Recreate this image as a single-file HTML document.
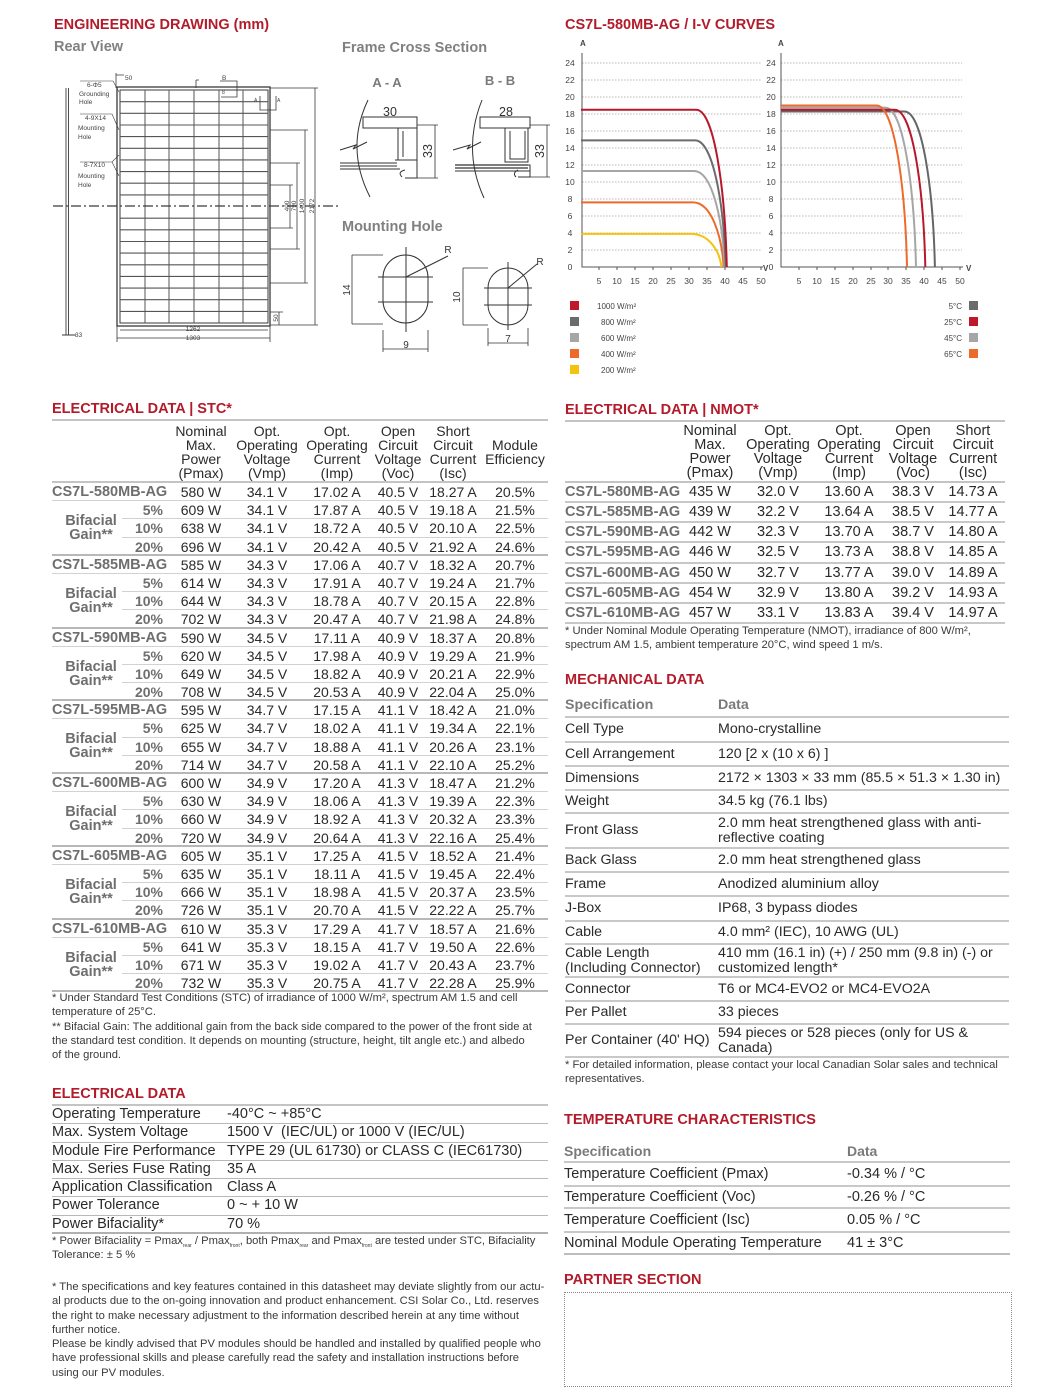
<!DOCTYPE html>
<html><head><meta charset="utf-8">
<style>
*{margin:0;padding:0;box-sizing:border-box}
body{width:1060px;height:1393px;background:#fff;font-family:"Liberation Sans",sans-serif;color:#2a2a2a;position:relative;overflow:hidden}
.a{position:absolute;white-space:nowrap}
.h{position:absolute;white-space:nowrap;color:#b31b2b;font-weight:bold;font-size:14.5px;line-height:18px}
.sub{position:absolute;white-space:nowrap;color:#808080;font-weight:bold;font-size:14.5px;line-height:18px}
.hr{position:absolute;height:2px;background:#c4c4c4}
.fn{position:absolute;white-space:nowrap;font-size:11.2px;line-height:14.3px;color:#3a3a3a}
.sb{font-size:5px;position:relative;top:3px;line-height:0}
.hd{position:absolute;top:424px;font-size:14px;line-height:14px;text-align:center;color:#2a2a2a;white-space:nowrap}
.stc{position:absolute;left:52px;top:483px;width:496px}
.stc .r{position:relative;height:18.19px;font-size:14px;line-height:18px;border-bottom:1px solid #d2d2d2}
.stc .r.l{border-bottom:2px solid #b8b8b8}
.stc .r.b{border-bottom:none}
.stc .r.b::after{content:"";position:absolute;left:70px;right:0;bottom:0;height:1px;background:#d2d2d2}
.stc span,.nm span{position:absolute;top:0;text-align:center;white-space:nowrap}
.mn{left:0;text-align:left!important;font-weight:bold;color:#6e6e6e;font-size:14.5px}
.pc{left:71px;width:40px;text-align:right!important;font-weight:bold;color:#6e6e6e}
.bg{left:0;width:78px;top:13px!important;line-height:14px;font-weight:bold;color:#6e6e6e;font-size:14.5px;z-index:2}
.stc .c1{left:119px;width:60px}.stc .c2{left:180px;width:70px}.stc .c3{left:250px;width:70px}
.stc .c4{left:316px;width:60px}.stc .c5{left:371px;width:60px}.stc .c6{left:433px;width:60px}
.nm{position:absolute;left:565px;top:483px;width:440px}
.nm .r{position:relative;height:20.15px;font-size:14.5px;line-height:19px;border-bottom:2px solid #c8c8c8}
.nm .c1{left:115px;width:60px}.nm .c2{left:178px;width:70px}.nm .c3{left:249px;width:70px}
.nm .c4{left:318px;width:60px}.nm .c5{left:378px;width:60px}
.mr{position:absolute;left:565px;width:444px;border-bottom:2px solid #c8c8c8;font-size:14.2px;display:flex;align-items:center}
.mr .k{position:absolute;left:0;line-height:14.5px}
.mr .v{position:absolute;left:153px;line-height:14.5px}
.mh{color:#7a7a7a;font-weight:bold}
.tr{position:absolute;left:564px;width:446px;border-bottom:2px solid #c8c8c8;font-size:14.5px;display:flex;align-items:center}
.tr .k{position:absolute;left:0}
.tr .v{position:absolute;left:283px}
.er{position:relative;height:18.3px;line-height:17px;font-size:14.5px;border-bottom:1.5px solid #b8b8b8}
.er .k{position:absolute;left:0}
.er .v{position:absolute;left:175px;white-space:nowrap}
</style></head><body>

<svg class="a" style="left:0;top:0" width="1060" height="390" viewBox="0 0 1060 390" font-family="Liberation Sans, sans-serif">
<g stroke="#3a3a3a" fill="none" stroke-width="1">
<rect x="117" y="87" width="153" height="239" stroke-width="1.3"/>
<rect x="120" y="90" width="148" height="233"/>
<path d="M145 90V323M169 90V323M194 90V323M219 90V323M243 90V323" stroke="#555"/>
<path d="M120 101.7H268M120 113.3H268M120 125H268M120 136.6H268M120 148.3H268M120 159.9H268M120 171.6H268M120 183.2H268M120 194.9H268M120 218.2H268M120 229.8H268M120 241.5H268M120 253.1H268M120 264.8H268M120 276.4H268M120 288.1H268M120 299.7H268M120 311.4H268" stroke="#555" stroke-width="1.1"/>
<path d="M66 88V335M68.5 88V335M62 335H76" stroke-width="0.9"/>
<path d="M53 206H338" stroke-dasharray="10 3 2 3" stroke-width="1.2"/>
<path d="M270 88H318M270 325H318M315 88V325" stroke-width="0.8"/>
<path d="M270 130H308M270 283H308M305 130V283" stroke-width="0.8"/>
<path d="M270 163H300M270 249H300M297 163V249" stroke-width="0.8"/>
<path d="M270 185H293M270 228H293M290 185V228" stroke-width="0.8"/>
<path d="M117 326V342M270 326V342M120 330H268M117 338H270" stroke-width="0.8"/>
<path d="M270 312H283M279 312V325" stroke-width="0.8"/>
<path d="M116 73V88M116 75H124" stroke-width="0.8"/>
<path d="M220 81H237V97H221" stroke-width="0.8"/>
<path d="M196 80V88M196 80H199" stroke-width="0.8"/>
<path d="M260 96V110H276V96" stroke-width="0.8"/>
<path d="M80 81H113L119 92M80 114H112L119 130M80 162H112L119 155M112 162L119 176" stroke-width="0.6"/>
</g>
<g fill="#444" font-size="6.5">
<text x="125" y="80">50</text><text x="222" y="80">B</text><text x="222" y="94" font-size="5">8</text>
<text x="254" y="102" font-size="5">A</text><text x="277" y="102" font-size="5">A</text>
<text x="87" y="87">6-Φ5</text><text x="79" y="96">Grounding</text><text x="79" y="104">Hole</text>
<text x="85" y="120">4-9X14</text><text x="78" y="130">Mounting</text><text x="78" y="139">Hole</text>
<text x="84" y="167">8-7X10</text><text x="78" y="178">Mounting</text><text x="78" y="187">Hole</text>
<text x="75" y="337">33</text>
<text x="193" y="331" text-anchor="middle">1262</text><text x="193" y="340" text-anchor="middle">1303</text>
<text transform="translate(289,206) rotate(-90)" text-anchor="middle">400</text>
<text transform="translate(296,206) rotate(-90)" text-anchor="middle">790</text>
<text transform="translate(304,206) rotate(-90)" text-anchor="middle">1400</text>
<text transform="translate(314,206) rotate(-90)" text-anchor="middle">2172</text>
<text transform="translate(278,318) rotate(-90)" text-anchor="middle">50</text>
</g>
<g fill="#7a7a7a" font-weight="bold" font-size="13" text-anchor="middle">
<text x="387" y="87">A - A</text><text x="500" y="85">B - B</text>
</g>
<g stroke="#333" fill="none" stroke-width="1">
<path d="M368 100Q345 148 370 197"/><path d="M340 150L356 145L353 149L367 142"/>
<path d="M340 163H397M340 166H397M340 169H400" stroke-width="1.1"/>
<path d="M363 117H417V128H363Z"/><path d="M398 128H417V160H398Z"/><path d="M403 131V157"/>
<path d="M395 160H417V178H405M405 170Q397 172 402 177"/>
<path d="M417 125H438M417 178H438M435 125V178" stroke-width="0.8"/>
<path d="M482 100Q462 150 484 198"/><path d="M453 150L470 145L467 149L481 142"/>
<path d="M455 165H528M455 168H528" stroke-width="1.3"/><path d="M455 171H530"/>
<path d="M480 117H530V128H480Z"/><path d="M505 128H528V162H505Z"/><path d="M510 131V159H525V131"/>
<path d="M513 165H530V177H518M518 170Q512 173 516 177"/>
<path d="M530 125H550M530 177H550M547 125V177" stroke-width="0.8"/>
</g>
<g fill="#333" font-size="12.5" text-anchor="middle">
<text x="390" y="116">30</text><text x="506" y="116">28</text>
<text transform="translate(432,151) rotate(-90)">33</text>
<text transform="translate(544,151) rotate(-90)">33</text>
</g>
<g stroke="#333" fill="none" stroke-width="1">
<rect x="383" y="255" width="45" height="68" rx="22.5"/>
<path d="M378 277H433M378 302H433M406 247V332"/>
<path d="M406 277L448 256"/>
<path d="M352 255V324M352 255H383M352 324H383" stroke-width="0.8"/>
<path d="M383 330V352M428 330V352M383 349H428" stroke-width="0.8"/>
<rect x="488" y="268" width="40" height="57" rx="20"/>
<path d="M484 288H532M484 305H532M508 262V330" />
<path d="M508 288L537 264"/>
<path d="M463 268V325M463 268H488M463 325H488" stroke-width="0.8"/>
<path d="M488 328V346M528 328V346M488 343H528" stroke-width="0.8"/>
</g>
<g fill="#333" font-size="10" text-anchor="middle">
<text x="448" y="253">R</text><text x="540" y="265">R</text>
<text transform="translate(350,290) rotate(-90)">14</text>
<text transform="translate(460,297) rotate(-90)">10</text>
<text x="406" y="348">9</text><text x="508" y="342">7</text>
</g>

<g stroke="#b8b8b8" stroke-width="0.9" stroke-dasharray="1.5 1.5">
<path d="M582 250H762M582 233H762M582 216H762M582 199H762M582 182H762M582 165H762M582 148H762M582 131H762M582 114H762M582 97H762M582 80H762M582 63H762"/>
<path d="M781 250H962M781 233H962M781 216H962M781 199H962M781 182H962M781 165H962M781 148H962M781 131H962M781 114H962M781 97H962M781 80H962M781 63H962"/>
</g>
<g stroke="#555" stroke-width="1" fill="none">
<path d="M582 53V267H763"/><path d="M781 53V267H963"/>
<path d="M599 267v3M617 267v3M635 267v3M653 267v3M671 267v3M689 267v3M707 267v3M725 267v3M743 267v3M761 267v3"/>
<path d="M799 267v3M817 267v3M835 267v3M853 267v3M871 267v3M888 267v3M906 267v3M924 267v3M942 267v3M960 267v3"/>
</g>
<g fill="none" stroke-width="2">
<path d="M581 233.9H690.8C708.8 233.9 719.6 250.4 721.4 267" stroke="#f5c20e"/>
<path d="M581 202.4H693C711 202.4 721.8 234.7 723.6 267" stroke="#ee6a2a"/>
<path d="M581 171H694C712 171 722.8 219 724.6 267" stroke="#a6a6a6"/>
<path d="M581 140.4H695.1C713.1 140.4 723.9 203.7 725.7 267" stroke="#6b6b6b"/>
<path d="M581 109.8H696.2C714.2 109.8 725 188.4 726.8 267" stroke="#b8182b"/>
<path d="M781 111.5H904.5C922.4 111.5 933.2 189.2 934.9 267" stroke="#666"/>
<path d="M781 107.6H885.5C903.4 107.6 914.2 187.1 916 267" stroke="#a6a6a6"/>
<path d="M781 109.8H894.8C912.7 109.8 923.5 188.4 925.3 267" stroke="#b8182b"/>
<path d="M781 105.5H876.6C894.5 105.5 905.2 186.3 907 267" stroke="#ee6a2a"/>
</g>
<g fill="#444" font-size="8.5" text-anchor="middle">
<text x="570" y="270">0</text><text x="570" y="253">2</text><text x="570" y="236">4</text><text x="570" y="219">6</text><text x="570" y="202">8</text><text x="570" y="185">10</text><text x="570" y="168">12</text><text x="570" y="151">14</text><text x="570" y="134">16</text><text x="570" y="117">18</text><text x="570" y="100">20</text><text x="570" y="83">22</text><text x="570" y="66">24</text>
<text x="771" y="270">0</text><text x="771" y="253">2</text><text x="771" y="236">4</text><text x="771" y="219">6</text><text x="771" y="202">8</text><text x="771" y="185">10</text><text x="771" y="168">12</text><text x="771" y="151">14</text><text x="771" y="134">16</text><text x="771" y="117">18</text><text x="771" y="100">20</text><text x="771" y="83">22</text><text x="771" y="66">24</text>
<text x="599" y="284">5</text><text x="617" y="284">10</text><text x="635" y="284">15</text><text x="653" y="284">20</text><text x="671" y="284">25</text><text x="689" y="284">30</text><text x="707" y="284">35</text><text x="725" y="284">40</text><text x="743" y="284">45</text><text x="761" y="284">50</text>
<text x="799" y="284">5</text><text x="817" y="284">10</text><text x="835" y="284">15</text><text x="853" y="284">20</text><text x="871" y="284">25</text><text x="888" y="284">30</text><text x="906" y="284">35</text><text x="924" y="284">40</text><text x="942" y="284">45</text><text x="960" y="284">50</text>
</g>
<g fill="#444" font-size="8" font-weight="bold">
<text x="580" y="46">A</text><text x="778" y="46">A</text><text x="763" y="271">V</text><text x="966" y="271">V</text>
</g>
<g>
<rect x="570" y="301" width="9" height="9" fill="#c0182b"/>
<rect x="570" y="317" width="9" height="9" fill="#6b6b6b"/>
<rect x="570" y="333" width="9" height="9" fill="#a6a6a6"/>
<rect x="570" y="349" width="9" height="9" fill="#ee6a2a"/>
<rect x="570" y="365" width="9" height="9" fill="#f5c20e"/>
<rect x="969" y="301" width="9" height="9" fill="#6b6b6b"/>
<rect x="969" y="317" width="9" height="9" fill="#c0182b"/>
<rect x="969" y="333" width="9" height="9" fill="#a6a6a6"/>
<rect x="969" y="349" width="9" height="9" fill="#ee6a2a"/>
</g>
<g fill="#444" font-size="8">
<text x="597" y="309">1000 W/m²</text><text x="601" y="325">800 W/m²</text><text x="601" y="341">600 W/m²</text><text x="601" y="357">400 W/m²</text><text x="601" y="373">200 W/m²</text>
<text x="962" y="309" text-anchor="end">5°C</text><text x="962" y="325" text-anchor="end">25°C</text><text x="962" y="341" text-anchor="end">45°C</text><text x="962" y="357" text-anchor="end">65°C</text>
</g>
</svg>

<div class="h" style="left:54px;top:16px">ENGINEERING DRAWING (mm)</div>
<div class="sub" style="left:54px;top:38px">Rear View</div>
<div class="sub" style="left:342px;top:39px">Frame Cross Section</div>
<div class="sub" style="left:342px;top:218px">Mounting Hole</div>
<div class="h" style="left:565px;top:16px">CS7L-580MB-AG / I-V CURVES</div>

<div class="h" style="left:52px;top:400px">ELECTRICAL DATA | STC*</div>
<div class="hr" style="left:52px;top:419px;width:496px"></div>
<div class="hd" style="left:166px;width:70px">Nominal<br>Max.<br>Power<br>(Pmax)</div>
<div class="hd" style="left:232px;width:70px">Opt.<br>Operating<br>Voltage<br>(Vmp)</div>
<div class="hd" style="left:302px;width:70px">Opt.<br>Operating<br>Current<br>(Imp)</div>
<div class="hd" style="left:363px;width:70px">Open<br>Circuit<br>Voltage<br>(Voc)</div>
<div class="hd" style="left:418px;width:70px">Short<br>Circuit<br>Current<br>(Isc)</div>
<div class="hd" style="left:475px;width:80px">&nbsp;<br>Module<br>Efficiency</div>
<div class="hr" style="left:52px;top:481px;width:496px"></div>
<div class="stc">
<div class="r"><span class="mn">CS7L-580MB-AG</span><span class="c1">580 W</span><span class="c2">34.1 V</span><span class="c3">17.02 A</span><span class="c4">40.5 V</span><span class="c5">18.27 A</span><span class="c6">20.5%</span></div>
<div class="r b"><span class="bg">Bifacial<br>Gain**</span><span class="pc">5%</span><span class="c1">609 W</span><span class="c2">34.1 V</span><span class="c3">17.87 A</span><span class="c4">40.5 V</span><span class="c5">19.18 A</span><span class="c6">21.5%</span></div>
<div class="r b"><span class="pc">10%</span><span class="c1">638 W</span><span class="c2">34.1 V</span><span class="c3">18.72 A</span><span class="c4">40.5 V</span><span class="c5">20.10 A</span><span class="c6">22.5%</span></div>
<div class="r l"><span class="pc">20%</span><span class="c1">696 W</span><span class="c2">34.1 V</span><span class="c3">20.42 A</span><span class="c4">40.5 V</span><span class="c5">21.92 A</span><span class="c6">24.6%</span></div>

<div class="r"><span class="mn">CS7L-585MB-AG</span><span class="c1">585 W</span><span class="c2">34.3 V</span><span class="c3">17.06 A</span><span class="c4">40.7 V</span><span class="c5">18.32 A</span><span class="c6">20.7%</span></div>
<div class="r b"><span class="bg">Bifacial<br>Gain**</span><span class="pc">5%</span><span class="c1">614 W</span><span class="c2">34.3 V</span><span class="c3">17.91 A</span><span class="c4">40.7 V</span><span class="c5">19.24 A</span><span class="c6">21.7%</span></div>
<div class="r b"><span class="pc">10%</span><span class="c1">644 W</span><span class="c2">34.3 V</span><span class="c3">18.78 A</span><span class="c4">40.7 V</span><span class="c5">20.15 A</span><span class="c6">22.8%</span></div>
<div class="r l"><span class="pc">20%</span><span class="c1">702 W</span><span class="c2">34.3 V</span><span class="c3">20.47 A</span><span class="c4">40.7 V</span><span class="c5">21.98 A</span><span class="c6">24.8%</span></div>

<div class="r"><span class="mn">CS7L-590MB-AG</span><span class="c1">590 W</span><span class="c2">34.5 V</span><span class="c3">17.11 A</span><span class="c4">40.9 V</span><span class="c5">18.37 A</span><span class="c6">20.8%</span></div>
<div class="r b"><span class="bg">Bifacial<br>Gain**</span><span class="pc">5%</span><span class="c1">620 W</span><span class="c2">34.5 V</span><span class="c3">17.98 A</span><span class="c4">40.9 V</span><span class="c5">19.29 A</span><span class="c6">21.9%</span></div>
<div class="r b"><span class="pc">10%</span><span class="c1">649 W</span><span class="c2">34.5 V</span><span class="c3">18.82 A</span><span class="c4">40.9 V</span><span class="c5">20.21 A</span><span class="c6">22.9%</span></div>
<div class="r l"><span class="pc">20%</span><span class="c1">708 W</span><span class="c2">34.5 V</span><span class="c3">20.53 A</span><span class="c4">40.9 V</span><span class="c5">22.04 A</span><span class="c6">25.0%</span></div>

<div class="r"><span class="mn">CS7L-595MB-AG</span><span class="c1">595 W</span><span class="c2">34.7 V</span><span class="c3">17.15 A</span><span class="c4">41.1 V</span><span class="c5">18.42 A</span><span class="c6">21.0%</span></div>
<div class="r b"><span class="bg">Bifacial<br>Gain**</span><span class="pc">5%</span><span class="c1">625 W</span><span class="c2">34.7 V</span><span class="c3">18.02 A</span><span class="c4">41.1 V</span><span class="c5">19.34 A</span><span class="c6">22.1%</span></div>
<div class="r b"><span class="pc">10%</span><span class="c1">655 W</span><span class="c2">34.7 V</span><span class="c3">18.88 A</span><span class="c4">41.1 V</span><span class="c5">20.26 A</span><span class="c6">23.1%</span></div>
<div class="r l"><span class="pc">20%</span><span class="c1">714 W</span><span class="c2">34.7 V</span><span class="c3">20.58 A</span><span class="c4">41.1 V</span><span class="c5">22.10 A</span><span class="c6">25.2%</span></div>

<div class="r"><span class="mn">CS7L-600MB-AG</span><span class="c1">600 W</span><span class="c2">34.9 V</span><span class="c3">17.20 A</span><span class="c4">41.3 V</span><span class="c5">18.47 A</span><span class="c6">21.2%</span></div>
<div class="r b"><span class="bg">Bifacial<br>Gain**</span><span class="pc">5%</span><span class="c1">630 W</span><span class="c2">34.9 V</span><span class="c3">18.06 A</span><span class="c4">41.3 V</span><span class="c5">19.39 A</span><span class="c6">22.3%</span></div>
<div class="r b"><span class="pc">10%</span><span class="c1">660 W</span><span class="c2">34.9 V</span><span class="c3">18.92 A</span><span class="c4">41.3 V</span><span class="c5">20.32 A</span><span class="c6">23.3%</span></div>
<div class="r l"><span class="pc">20%</span><span class="c1">720 W</span><span class="c2">34.9 V</span><span class="c3">20.64 A</span><span class="c4">41.3 V</span><span class="c5">22.16 A</span><span class="c6">25.4%</span></div>

<div class="r"><span class="mn">CS7L-605MB-AG</span><span class="c1">605 W</span><span class="c2">35.1 V</span><span class="c3">17.25 A</span><span class="c4">41.5 V</span><span class="c5">18.52 A</span><span class="c6">21.4%</span></div>
<div class="r b"><span class="bg">Bifacial<br>Gain**</span><span class="pc">5%</span><span class="c1">635 W</span><span class="c2">35.1 V</span><span class="c3">18.11 A</span><span class="c4">41.5 V</span><span class="c5">19.45 A</span><span class="c6">22.4%</span></div>
<div class="r b"><span class="pc">10%</span><span class="c1">666 W</span><span class="c2">35.1 V</span><span class="c3">18.98 A</span><span class="c4">41.5 V</span><span class="c5">20.37 A</span><span class="c6">23.5%</span></div>
<div class="r l"><span class="pc">20%</span><span class="c1">726 W</span><span class="c2">35.1 V</span><span class="c3">20.70 A</span><span class="c4">41.5 V</span><span class="c5">22.22 A</span><span class="c6">25.7%</span></div>

<div class="r"><span class="mn">CS7L-610MB-AG</span><span class="c1">610 W</span><span class="c2">35.3 V</span><span class="c3">17.29 A</span><span class="c4">41.7 V</span><span class="c5">18.57 A</span><span class="c6">21.6%</span></div>
<div class="r b"><span class="bg">Bifacial<br>Gain**</span><span class="pc">5%</span><span class="c1">641 W</span><span class="c2">35.3 V</span><span class="c3">18.15 A</span><span class="c4">41.7 V</span><span class="c5">19.50 A</span><span class="c6">22.6%</span></div>
<div class="r b"><span class="pc">10%</span><span class="c1">671 W</span><span class="c2">35.3 V</span><span class="c3">19.02 A</span><span class="c4">41.7 V</span><span class="c5">20.43 A</span><span class="c6">23.7%</span></div>
<div class="r l"><span class="pc">20%</span><span class="c1">732 W</span><span class="c2">35.3 V</span><span class="c3">20.75 A</span><span class="c4">41.7 V</span><span class="c5">22.28 A</span><span class="c6">25.9%</span></div>
</div>
<div class="fn" style="left:52px;top:991px">* Under Standard Test Conditions (STC) of irradiance of 1000 W/m², spectrum AM 1.5 and cell<br>temperature of 25°C.<br>** Bifacial Gain: The additional gain from the back side compared to the power of the front side at<br>the standard test condition. It depends on mounting (structure, height, tilt angle etc.) and albedo<br>of the ground.</div>

<div class="h" style="left:52px;top:1085px">ELECTRICAL DATA</div>
<div class="hr" style="left:52px;top:1104px;width:496px"></div>
<div style="position:absolute;left:52px;top:1106px;width:496px">
<div class="er"><span class="k">Operating Temperature</span><span class="v">-40°C ~ +85°C</span></div>
<div class="er"><span class="k">Max. System Voltage</span><span class="v">1500 V&nbsp; (IEC/UL) or 1000 V (IEC/UL)</span></div>
<div class="er"><span class="k">Module Fire Performance</span><span class="v">TYPE 29 (UL 61730) or CLASS C (IEC61730)</span></div>
<div class="er"><span class="k">Max. Series Fuse Rating</span><span class="v">35 A</span></div>
<div class="er"><span class="k">Application Classification</span><span class="v">Class A</span></div>
<div class="er"><span class="k">Power Tolerance</span><span class="v">0 ~ + 10 W</span></div>
<div class="er" style="border-bottom:2px solid #b0b0b0"><span class="k">Power Bifaciality*</span><span class="v">70 %</span></div>
</div>
<div class="fn" style="left:52px;top:1234px">* Power Bifaciality = Pmax<span class="sb">rear</span> / Pmax<span class="sb">front</span>, both Pmax<span class="sb">rear</span> and Pmax<span class="sb">front</span> are tested under STC, Bifaciality<br>Tolerance: ± 5 %</div>
<div class="fn" style="left:52px;top:1280px">* The specifications and key features contained in this datasheet may deviate slightly from our actu-<br>al products due to the on-going innovation and product enhancement. CSI Solar Co., Ltd. reserves<br>the right to make necessary adjustment to the information described herein at any time without<br>further notice.<br>Please be kindly advised that PV modules should be handled and installed by qualified people who<br>have professional skills and please carefully read the safety and installation instructions before<br>using our PV modules.</div>

<div class="h" style="left:565px;top:401px">ELECTRICAL DATA | NMOT*</div>
<div class="hr" style="left:565px;top:420px;width:440px"></div>
<div class="hd" style="left:675px;width:70px;font-size:14.5px">Nominal<br>Max.<br>Power<br>(Pmax)</div>
<div class="hd" style="left:738px;width:80px;font-size:14.5px">Opt.<br>Operating<br>Voltage<br>(Vmp)</div>
<div class="hd" style="left:809px;width:80px;font-size:14.5px">Opt.<br>Operating<br>Current<br>(Imp)</div>
<div class="hd" style="left:878px;width:70px;font-size:14.5px">Open<br>Circuit<br>Voltage<br>(Voc)</div>
<div class="hd" style="left:938px;width:70px;font-size:14.5px">Short<br>Circuit<br>Current<br>(Isc)</div>
<div class="hr" style="left:565px;top:481px;width:440px"></div>
<div class="nm">
<div class="r"><span class="mn">CS7L-580MB-AG</span><span class="c1">435 W</span><span class="c2">32.0 V</span><span class="c3">13.60 A</span><span class="c4">38.3 V</span><span class="c5">14.73 A</span></div>
<div class="r"><span class="mn">CS7L-585MB-AG</span><span class="c1">439 W</span><span class="c2">32.2 V</span><span class="c3">13.64 A</span><span class="c4">38.5 V</span><span class="c5">14.77 A</span></div>
<div class="r"><span class="mn">CS7L-590MB-AG</span><span class="c1">442 W</span><span class="c2">32.3 V</span><span class="c3">13.70 A</span><span class="c4">38.7 V</span><span class="c5">14.80 A</span></div>
<div class="r"><span class="mn">CS7L-595MB-AG</span><span class="c1">446 W</span><span class="c2">32.5 V</span><span class="c3">13.73 A</span><span class="c4">38.8 V</span><span class="c5">14.85 A</span></div>
<div class="r"><span class="mn">CS7L-600MB-AG</span><span class="c1">450 W</span><span class="c2">32.7 V</span><span class="c3">13.77 A</span><span class="c4">39.0 V</span><span class="c5">14.89 A</span></div>
<div class="r"><span class="mn">CS7L-605MB-AG</span><span class="c1">454 W</span><span class="c2">32.9 V</span><span class="c3">13.80 A</span><span class="c4">39.2 V</span><span class="c5">14.93 A</span></div>
<div class="r"><span class="mn">CS7L-610MB-AG</span><span class="c1">457 W</span><span class="c2">33.1 V</span><span class="c3">13.83 A</span><span class="c4">39.4 V</span><span class="c5">14.97 A</span></div>
</div>
<div class="fn" style="left:565px;top:624px">* Under Nominal Module Operating Temperature (NMOT), irradiance of 800 W/m²,<br>spectrum AM 1.5, ambient temperature 20°C, wind speed 1 m/s.</div>

<div class="h" style="left:565px;top:671px">MECHANICAL DATA</div>
<div class="mr" style="top:695px;height:23px"><span class="k mh">Specification</span><span class="v mh">Data</span></div>
<div class="mr" style="top:718px;height:25px"><span class="k">Cell Type</span><span class="v">Mono-crystalline</span></div>
<div class="mr" style="top:743px;height:24px"><span class="k">Cell Arrangement</span><span class="v">120 [2 x (10 x 6) ]</span></div>
<div class="mr" style="top:767px;height:24px"><span class="k">Dimensions</span><span class="v">2172 × 1303 × 33 mm (85.5 × 51.3 × 1.30 in)</span></div>
<div class="mr" style="top:791px;height:23px"><span class="k">Weight</span><span class="v">34.5 kg (76.1 lbs)</span></div>
<div class="mr" style="top:814px;height:35px"><span class="k">Front Glass</span><span class="v">2.0 mm heat strengthened glass with anti-<br>reflective coating</span></div>
<div class="mr" style="top:849px;height:24px"><span class="k">Back Glass</span><span class="v">2.0 mm heat strengthened glass</span></div>
<div class="mr" style="top:873px;height:24px"><span class="k">Frame</span><span class="v">Anodized aluminium alloy</span></div>
<div class="mr" style="top:897px;height:25px"><span class="k">J-Box</span><span class="v">IP68, 3 bypass diodes</span></div>
<div class="mr" style="top:922px;height:23px"><span class="k">Cable</span><span class="v">4.0 mm² (IEC), 10 AWG (UL)</span></div>
<div class="mr" style="top:945px;height:33px"><span class="k">Cable Length<br>(Including Connector)</span><span class="v">410 mm (16.1 in) (+) / 250 mm (9.8 in) (-) or<br>customized length*</span></div>
<div class="mr" style="top:978px;height:24px"><span class="k">Connector</span><span class="v">T6 or MC4-EVO2 or MC4-EVO2A</span></div>
<div class="mr" style="top:1002px;height:23px"><span class="k">Per Pallet</span><span class="v">33 pieces</span></div>
<div class="mr" style="top:1025px;height:33px"><span class="k">Per Container (40' HQ)</span><span class="v">594 pieces or 528 pieces (only for US &amp;<br>Canada)</span></div>
<div class="fn" style="left:565px;top:1058px">* For detailed information, please contact your local Canadian Solar sales and technical<br>representatives.</div>

<div class="h" style="left:564px;top:1111px">TEMPERATURE CHARACTERISTICS</div>
<div class="tr" style="top:1140px;height:23px"><span class="k mh" style="font-size:14px">Specification</span><span class="v mh" style="font-size:14px">Data</span></div>
<div class="tr" style="top:1163px;height:24px"><span class="k">Temperature Coefficient (Pmax)</span><span class="v">-0.34 % / °C</span></div>
<div class="tr" style="top:1187px;height:22px"><span class="k">Temperature Coefficient (Voc)</span><span class="v">-0.26 % / °C</span></div>
<div class="tr" style="top:1209px;height:24px"><span class="k">Temperature Coefficient (Isc)</span><span class="v">0.05 % / °C</span></div>
<div class="tr" style="top:1233px;height:22px;border-bottom:2.5px solid #bdbdbd"><span class="k">Nominal Module Operating Temperature</span><span class="v">41 ± 3°C</span></div>

<div class="h" style="left:564px;top:1271px">PARTNER SECTION</div>
<div class="a" style="left:564px;top:1292px;width:448px;height:95px;border:1.5px dotted #8a8a8a"></div>

</body></html>
